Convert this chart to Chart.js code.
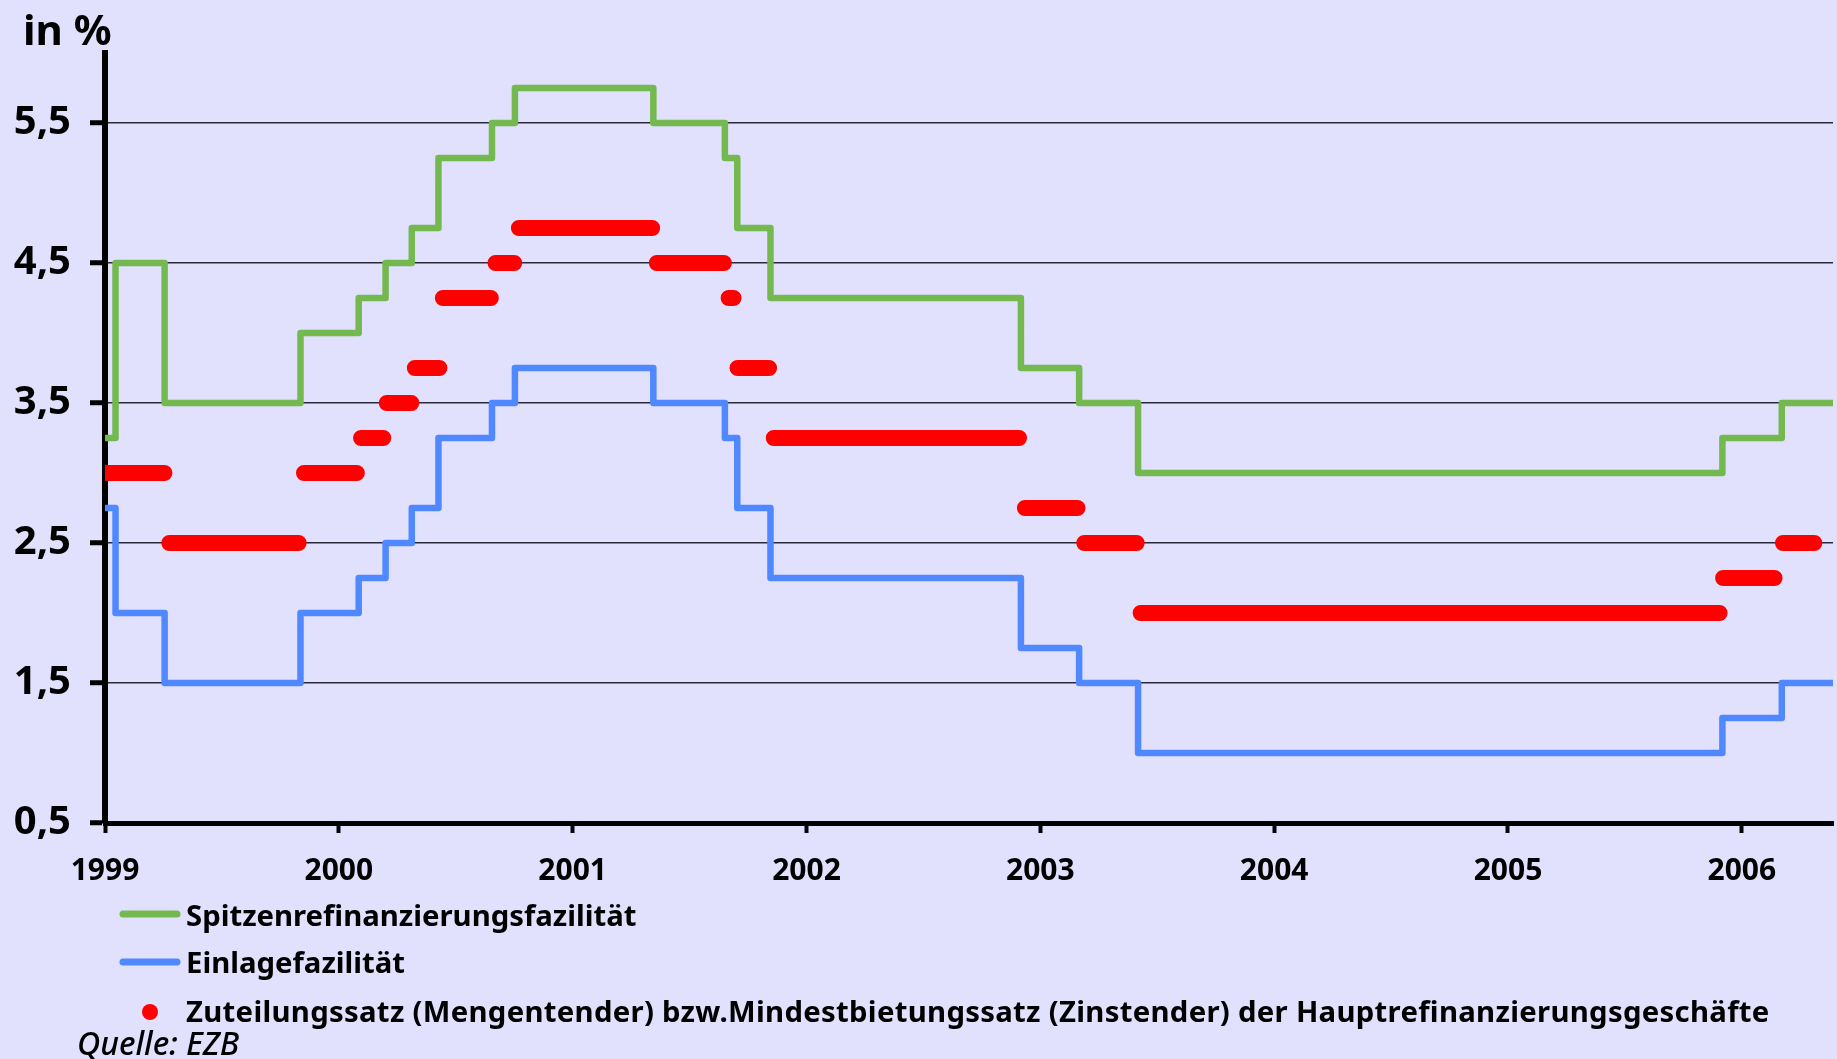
<!DOCTYPE html>
<html lang="de">
<head>
<meta charset="utf-8">
<title>EZB Leitzinsen</title>
<script src="https://cdn.jsdelivr.net/npm/chart.js@4/dist/chart.umd.min.js"></script>
<style>
  html, body { margin: 0; padding: 0; background: #E1E1FD; }
  #wrap { position: relative; width: 1837px; height: 1059px; }
</style>
</head>
<body>
<div id="wrap"><canvas id="rates"></canvas></div>
<script>
// Zeitpunkte der Zinsänderungen (Dezimaljahre)
const stepDates = [1999.000, 1999.045, 1999.255, 1999.836, 2000.085, 2000.200, 2000.312,
                   2000.426, 2000.655, 2000.753, 2001.345, 2001.651, 2001.704, 2001.846,
                   2002.917, 2003.166, 2003.418, 2005.917, 2006.171, 2006.390];
// Spitzenrefinanzierungsfazilität
const marginalRate = [3.25, 4.50, 3.50, 4.00, 4.25, 4.50, 4.75, 5.25, 5.50, 5.75, 5.50,
                      5.25, 4.75, 4.25, 3.75, 3.50, 3.00, 3.25, 3.50, 3.50];
// Einlagefazilität
const depositRate = [2.75, 2.00, 1.50, 2.00, 2.25, 2.50, 2.75, 3.25, 3.50, 3.75, 3.50,
                     3.25, 2.75, 2.25, 1.75, 1.50, 1.00, 1.25, 1.50, 1.50];
// Hauptrefinanzierungsgeschäfte: erste und letzte Operation je Zinsniveau
const mroStart = [1999.007, 1999.275, 1999.851, 2000.095, 2000.205, 2000.325, 2000.445,
                  2000.670, 2000.770, 2001.360, 2001.667, 2001.705, 2001.860, 2002.934,
                  2003.188, 2003.429, 2005.920, 2006.176];
const mroEnd   = [1999.254, 1999.828, 2000.077, 2000.190, 2000.310, 2000.430, 2000.650,
                  2000.750, 2001.340, 2001.647, 2001.688, 2001.840, 2002.909, 2003.159,
                  2003.412, 2005.905, 2006.140, 2006.310];
const mroRate  = [3.00, 2.50, 3.00, 3.25, 3.50, 3.75, 4.25, 4.50, 4.75, 4.50, 4.25, 3.75,
                  3.25, 2.75, 2.50, 2.00, 2.25, 2.50];

const yearTicks = [1999, 2000, 2001, 2002, 2003, 2004, 2005, 2006];
const rateTicks = [0.5, 1.5, 2.5, 3.5, 4.5, 5.5];
const seriesNames = [
  'Spitzenrefinanzierungsfazilität',
  'Einlagefazilität',
  'Zuteilungssatz (Mengentender) bzw.Mindestbietungssatz (Zinstender) der Hauptrefinanzierungsgeschäfte'
];
const unitLabel = 'in %';
const sourceLabel = 'Quelle: EZB';

const GREEN = '#74B94F';
const BLUE = '#4F88FF';
const RED = '#FF0000';
const FONT = "'Noto Sans', sans-serif";

const marginalData = stepDates.map((d, i) => ({ x: d, y: marginalRate[i] }));
const depositData = stepDates.map((d, i) => ({ x: d, y: depositRate[i] }));
const mroData = [];
mroRate.forEach((r, i) => {
  mroData.push({ x: mroStart[i], y: r }, { x: mroEnd[i], y: r }, { x: mroEnd[i], y: null });
});

// Legende, Einheit und Quelle unterhalb bzw. oberhalb der Zeichenfläche
const extraText = {
  id: 'extraText',
  afterDraw(chart) {
    const ctx = chart.ctx;
    ctx.save();
    ctx.fillStyle = '#000';
    ctx.textBaseline = 'alphabetic';
    ctx.font = `bold 42px ${FONT}`;
    ctx.fillText(unitLabel, 23, 45);

    ctx.lineCap = 'round';
    ctx.lineWidth = 7;
    [[GREEN, 914], [BLUE, 962]].forEach(([c, y]) => {
      ctx.strokeStyle = c;
      ctx.beginPath();
      ctx.moveTo(123, y);
      ctx.lineTo(177, y);
      ctx.stroke();
    });
    ctx.fillStyle = RED;
    ctx.beginPath();
    ctx.arc(150, 1012, 8, 0, Math.PI * 2);
    ctx.fill();

    ctx.fillStyle = '#000';
    ctx.font = `bold 29.3px ${FONT}`;
    ctx.fillText(seriesNames[0], 186, 926);
    ctx.fillText(seriesNames[1], 186, 973);
    ctx.letterSpacing = '0.3px';
    ctx.fillText(seriesNames[2], 186, 1022);
    ctx.letterSpacing = '0px';

    ctx.font = `italic 500 32px ${FONT}`;
    ctx.fillText(sourceLabel, 77, 1055);
    ctx.restore();
  }
};

Chart.defaults.font.family = FONT;
Chart.defaults.color = '#000';

new Chart(document.getElementById('rates'), {
  type: 'line',
  data: {
    datasets: [
      {
        label: seriesNames[0],
        data: marginalData,
        stepped: true,
        borderColor: GREEN,
        borderWidth: 6.5,
        borderCapStyle: 'round',
        borderJoinStyle: 'round',
        pointRadius: 0,
        fill: false
      },
      {
        label: seriesNames[1],
        data: depositData,
        stepped: true,
        borderColor: BLUE,
        borderWidth: 6.5,
        borderCapStyle: 'round',
        borderJoinStyle: 'round',
        pointRadius: 0,
        fill: false
      },
      {
        label: seriesNames[2],
        data: mroData,
        spanGaps: false,
        borderColor: RED,
        backgroundColor: RED,
        borderWidth: 16,
        borderCapStyle: 'round',
        pointRadius: 0,
        fill: false
      }
    ]
  },
  options: {
    responsive: true,
    maintainAspectRatio: false,
    animation: false,
    layout: { padding: { top: 53, right: 4, left: 0, bottom: 0 } },
    plugins: {
      legend: { display: false },
      tooltip: { enabled: false }
    },
    scales: {
      x: {
        type: 'linear',
        min: 1999,
        max: 2006.39,
        afterBuildTicks: (scale) => { scale.ticks = yearTicks.map(v => ({ value: v })); },
        afterFit: (scale) => { scale.height = 236; },
        ticks: {
          padding: 20,
          maxRotation: 0,
          autoSkip: false,
          font: { size: 30, weight: 'bold' },
          callback: (v) => String(v)
        },
        grid: {
          drawOnChartArea: false,
          drawTicks: true,
          tickLength: 10,
          tickColor: '#000',
          tickWidth: 4
        },
        border: { display: true, color: '#000', width: 5 }
      },
      y: {
        min: 0.5,
        max: 6.0,
        afterBuildTicks: (scale) => { scale.ticks = rateTicks.map(v => ({ value: v })); },
        afterFit: (scale) => { scale.width = 105; },
        ticks: {
          padding: 19,
          font: { size: 40, weight: 'bold' },
          callback: (v) => v.toFixed(1).replace('.', ',')
        },
        grid: {
          color: '#2a2a3a',
          lineWidth: 1.5,
          drawTicks: true,
          tickLength: 15,
          tickColor: '#000',
          tickWidth: 5
        },
        border: { display: true, color: '#000', width: 6 }
      }
    }
  },
  plugins: [extraText]
});
</script>
</body>
</html>
